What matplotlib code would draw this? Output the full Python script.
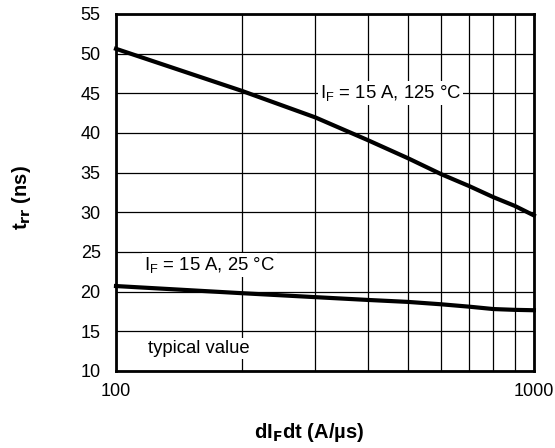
import numpy as np
import matplotlib.pyplot as plt
from matplotlib.ticker import FixedLocator, NullFormatter

plt.rcParams['font.family'] = ['Liberation Sans', 'DejaVu Sans']

# dIF/dt (A/us)
didt = [100, 200, 300, 400, 500, 600, 700, 800, 900, 1000]
# trr (ns) at IF = 15 A
trr_125 = [50.6, 45.3, 41.95, 39.1, 36.8, 34.8, 33.3, 31.9, 30.8, 29.6]
trr_25 = [20.7, 19.8, 19.3, 18.95, 18.7, 18.4, 18.1, 17.8, 17.7, 17.65]

fig = plt.figure(figsize=(5.55, 4.48), dpi=100)
ax = fig.add_axes([0.209, 0.172, 0.753, 0.797])

ax.set_xscale('log')
ax.set_xlim(100, 1000)
ax.set_ylim(10, 55)
ax.set_xticks([100, 1000])
ax.set_xticklabels(['100', '1000'])
ax.xaxis.set_minor_locator(FixedLocator(range(200, 1000, 100)))
ax.xaxis.set_minor_formatter(NullFormatter())
ax.set_yticks(np.arange(10, 56, 5))
ax.tick_params(which='both', length=0, labelsize=13)
ax.tick_params(axis='x', pad=9)
ax.tick_params(axis='y', pad=11)
ax.grid(which='both', color='black', lw=0.9)
ax.set_axisbelow(True)
for s in ax.spines.values():
    s.set_linewidth(2)

ax.plot(didt, trr_125, color='black', lw=3, clip_on=False)
ax.plot(didt, trr_25, color='black', lw=3, clip_on=False)

box = dict(facecolor='white', edgecolor='none', pad=1.5)
ax.text(308, 45, 'I$_\\mathregular{F}$ = 15 A, 125 °C', fontsize=13.3,
        va='center', ha='left', bbox=box)
ax.text(117, 23.3, 'I$_\\mathregular{F}$ = 15 A, 25 °C', fontsize=13.3,
        va='center', ha='left', bbox=box)
ax.text(119, 12.8, 'typical value', fontsize=13.3, va='center', ha='left',
        bbox=box)

fig.text(0.557, 0.035, 'dI$_\\mathbf{F}$dt (A/µs)', fontsize=14.5,
         fontweight='bold', ha='center', va='center')
fig.text(0.039, 0.558, 't$_\\mathbf{rr}$ (ns)', fontsize=14.5,
         fontweight='bold', ha='center', va='center', rotation=90)

fig.savefig('out.png', dpi=100)
